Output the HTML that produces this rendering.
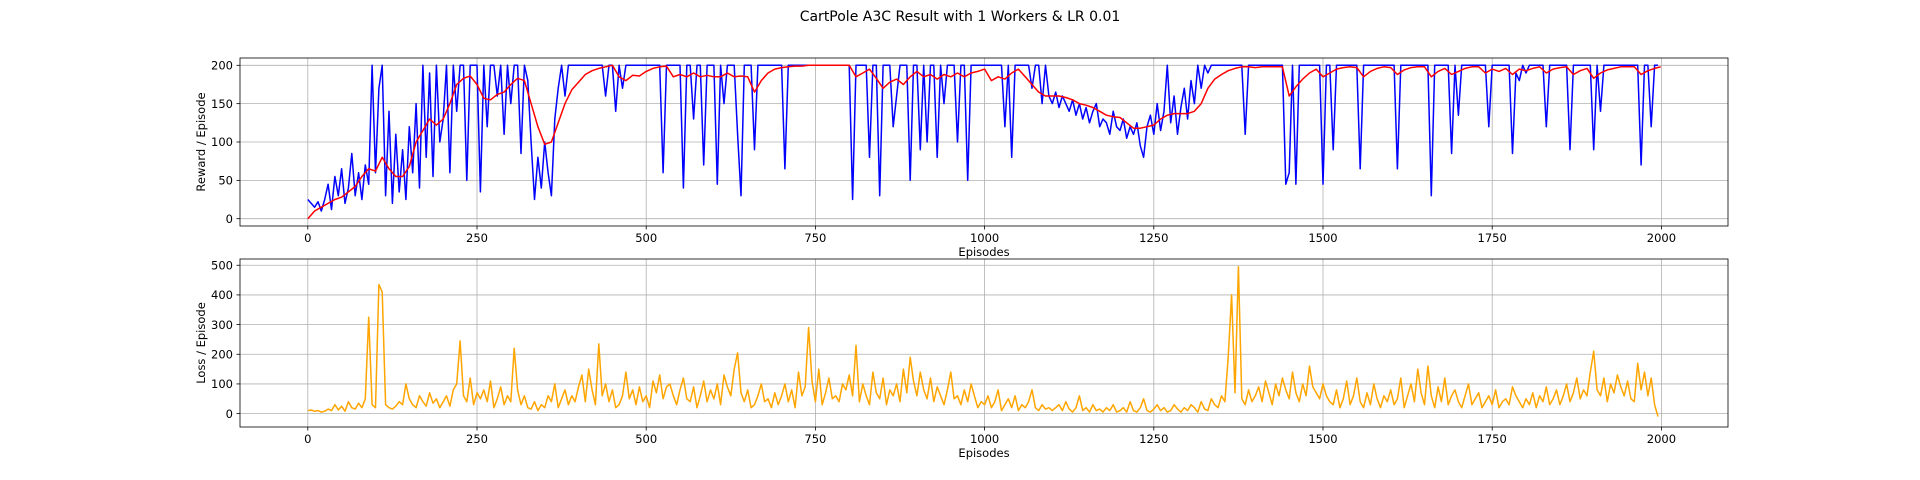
<!DOCTYPE html>
<html><head><meta charset="utf-8"><style>
html,body{margin:0;padding:0;background:#fff;}
svg{display:block;font-family:"DejaVu Sans","Liberation Sans",sans-serif;}
</style></head><body>
<svg id="fig" width="1920" height="480" viewBox="0 0 1920 480" xmlns="http://www.w3.org/2000/svg">
<rect width="1920" height="480" fill="#fff"/>
<text x="960" y="21" text-anchor="middle" font-size="14" fill="#000">CartPole A3C Result with 1 Workers &amp; LR 0.01</text>
</svg>
<script>
const xTicks=[0,250,500,750,1000,1250,1500,1750,2000];
const rewardTicks=[0,50,100,150,200];
const lossTicks=[0,100,200,300,400,500];
const rawStep=5;
const smoothStep=10;
const rewardRaw=[25,20,15,22,10,25,45,12,55,30,65,20,40,85,30,60,25,70,45,200,
60,170,200,30,140,20,110,35,90,25,120,60,150,40,200,80,190,55,200,100,
130,200,60,200,140,200,200,50,200,200,200,35,200,120,200,200,160,200,110,200,
150,200,200,85,200,180,100,25,80,40,100,60,30,130,170,200,160,200,200,200,
200,200,200,200,200,200,200,200,160,200,200,140,200,170,200,200,200,200,200,200,
200,200,200,200,200,60,200,200,200,200,200,40,200,200,130,200,200,70,200,200,
200,45,200,150,200,200,200,110,30,200,200,200,90,200,200,200,200,200,200,200,
200,65,200,200,200,200,200,200,200,200,200,200,200,200,200,200,200,200,200,200,
200,25,200,200,200,200,80,200,200,30,200,200,200,120,160,200,200,200,50,200,
200,90,200,100,200,200,80,200,150,200,200,200,100,200,200,50,200,200,200,200,
200,200,200,200,200,200,120,200,80,200,200,200,200,200,170,200,200,150,200,160,
150,165,145,160,150,140,155,135,150,130,145,125,140,150,120,130,125,110,140,120,
115,130,105,120,110,125,95,80,120,135,110,150,115,140,200,125,160,110,145,170,
130,180,150,200,170,200,190,200,200,200,200,200,200,200,200,200,200,110,200,200,
200,200,200,200,200,200,200,200,200,45,60,200,45,200,200,200,200,200,200,200,
45,200,200,90,200,200,200,200,200,200,200,65,200,200,200,200,200,200,200,200,
200,200,65,200,200,200,200,200,200,200,200,200,30,200,200,200,200,200,85,200,
135,200,200,200,200,200,200,200,200,120,200,200,200,200,200,200,85,190,180,200,
190,200,200,200,200,200,120,200,200,200,200,200,200,90,200,200,200,200,200,200,
90,200,140,200,200,200,200,200,200,200,200,200,200,200,70,200,200,120,200,200];
const rewardSmooth=[0,10,15,20,25,28,35,42,55,65,62,80,65,55,55,68,100,115,130,122,
130,150,175,183,186,175,157,155,162,165,175,183,180,150,120,97,100,125,150,168,
178,188,193,196,198,200,185,180,187,186,192,196,198,199,185,188,185,190,185,187,
185,185,190,185,186,185,165,180,190,195,197,198,199,199,200,200,200,200,200,200,
200,185,190,195,183,170,178,182,175,185,192,185,188,182,188,185,190,185,190,192,
195,180,185,182,190,195,185,175,165,160,160,160,158,155,150,148,145,140,135,133,
132,125,118,118,120,122,130,135,137,137,137,140,150,170,182,188,193,196,198,198,
197,198,198,198,198,160,172,182,190,195,185,190,195,197,198,197,185,192,196,198,
197,188,194,197,198,198,185,192,196,188,192,196,198,198,190,195,192,196,188,195,
193,196,198,190,195,197,198,188,193,196,183,190,194,196,198,198,198,188,193,196,198];
const lossRaw=[10,12,8,10,5,8,15,10,30,12,25,8,40,20,15,35,20,50,325,30,
20,435,410,30,20,15,25,40,30,100,50,30,20,60,40,25,70,35,50,20,
40,60,25,80,100,245,60,40,120,30,70,50,80,40,110,20,50,90,30,60,
40,220,80,30,60,20,15,40,10,30,20,60,40,100,20,50,80,30,60,40,
90,130,40,150,80,30,235,60,100,40,80,20,30,60,140,50,80,30,90,40,
60,20,110,70,130,50,90,100,60,30,80,120,50,40,90,20,60,110,40,80,
50,100,30,130,90,60,150,205,70,40,80,20,30,60,100,40,50,20,70,30,
60,100,40,80,20,140,60,90,290,110,40,150,30,70,120,50,60,40,100,80,
130,60,230,40,100,60,30,140,70,50,120,30,80,60,100,40,150,70,190,110,
60,140,80,50,120,40,90,60,30,80,140,50,60,30,80,40,100,60,20,40,
30,60,20,40,80,10,30,50,20,60,10,30,20,40,80,20,10,30,15,20,
10,20,30,10,40,15,5,20,60,10,20,5,30,10,15,5,20,10,30,5,
10,20,5,40,10,5,20,50,10,5,15,30,10,20,5,10,30,15,5,20,
10,30,20,5,40,15,10,50,30,20,60,40,190,400,70,495,50,30,80,40,
60,90,40,110,70,30,100,60,120,80,50,140,70,40,100,60,160,90,70,50,
100,60,40,30,80,20,50,110,30,60,120,40,20,70,30,100,50,20,60,40,
80,30,50,120,20,60,100,40,150,70,30,160,60,20,90,40,120,30,60,80,
40,20,60,100,30,50,70,20,40,60,30,80,20,40,50,30,90,60,40,20,
50,30,70,20,60,40,90,30,50,80,30,60,100,40,70,120,50,80,60,140,
210,80,60,120,40,100,70,130,90,60,110,50,40,170,80,140,60,120,30,-10];

const NS="http://www.w3.org/2000/svg";
const svg=document.getElementById('fig');
const L=240,R=1728;
const xs=e=>307.8+(e)*(1661.4-307.8)/2000;
function mk(tag,attrs,parent){const el=document.createElementNS(NS,tag);for(const k in attrs)el.setAttribute(k,attrs[k]);(parent||svg).appendChild(el);return el;}

function axes(top,bottom,yFn,yTicks,ylabel,name){
  const g=mk('g',{});
  
  
  const clip=mk('clipPath',{id:name+'-clip'},g);
  mk('rect',{x:L,y:top,width:R-L,height:bottom-top},clip);
  xTicks.forEach(t=>{
    const x=xs(t);
    const gl=mk('line',{x1:x,x2:x,y1:top,y2:bottom,stroke:'#b0b0b0','stroke-width':0.8},g);
    
    
    mk('line',{x1:x,x2:x,y1:bottom,y2:bottom+3.5,stroke:'#000','stroke-width':0.8},g);
    const tx=mk('text',{x:x,y:bottom+16,'text-anchor':'middle','font-size':11.5,fill:'#000'},g);
    tx.textContent=t;
    
    
  });
  yTicks.forEach(t=>{
    const y=yFn(t);
    const gl=mk('line',{x1:L,x2:R,y1:y,y2:y,stroke:'#b0b0b0','stroke-width':0.8},g);
    
    
    mk('line',{x1:L-3.5,x2:L,y1:y,y2:y,stroke:'#000','stroke-width':0.8},g);
    const tx=mk('text',{x:L-7,y:y+4.2,'text-anchor':'end','font-size':11.5,fill:'#000'},g);
    tx.textContent=t;
    
    
  });
  const xl=mk('text',{x:(L+R)/2,y:bottom+30,'text-anchor':'middle','font-size':11.5,fill:'#000'},g);
  xl.textContent='Episodes';
  
  
  const cy=(top+bottom)/2;
  const yl=mk('text',{x:205,y:cy,'text-anchor':'middle','font-size':11.5,fill:'#000',transform:`rotate(-90 205 ${cy})`},g);
  yl.textContent=ylabel;
  
  
  return g;
}
function series(g,vals,step,yFn,color,name,clipId){
  const pts=vals.map((v,i)=>xs(Math.min(i*step,1999)).toFixed(1)+','+yFn(v).toFixed(1)).join(' ');
  const p=mk('polyline',{points:pts,fill:'none',stroke:color,'stroke-width':1.5,'stroke-linejoin':'round','clip-path':`url(#${clipId})`},g);
  
  
}
function frame(g,top,bottom){
  const f=mk('rect',{x:L,y:top,width:R-L,height:bottom-top,fill:'none',stroke:'#000','stroke-width':0.8},g);
  
  
}
const yTop=v=>218.7-v*0.767;
const g1=axes(58,226,yTop,rewardTicks,'Reward / Episode','reward');
series(g1,rewardRaw,rawStep,yTop,'#0000ff','reward-raw-line','reward-clip');
series(g1,rewardSmooth,smoothStep,yTop,'#ff0000','reward-smoothed-line','reward-clip');
frame(g1,58,226);
const yBot=v=>413.6-v*0.2967;
const g2=axes(259,427,yBot,lossTicks,'Loss / Episode','loss');
series(g2,lossRaw,rawStep,yBot,'#ffa500','loss-line','loss-clip');
frame(g2,259,427);
</script>
</body></html>
